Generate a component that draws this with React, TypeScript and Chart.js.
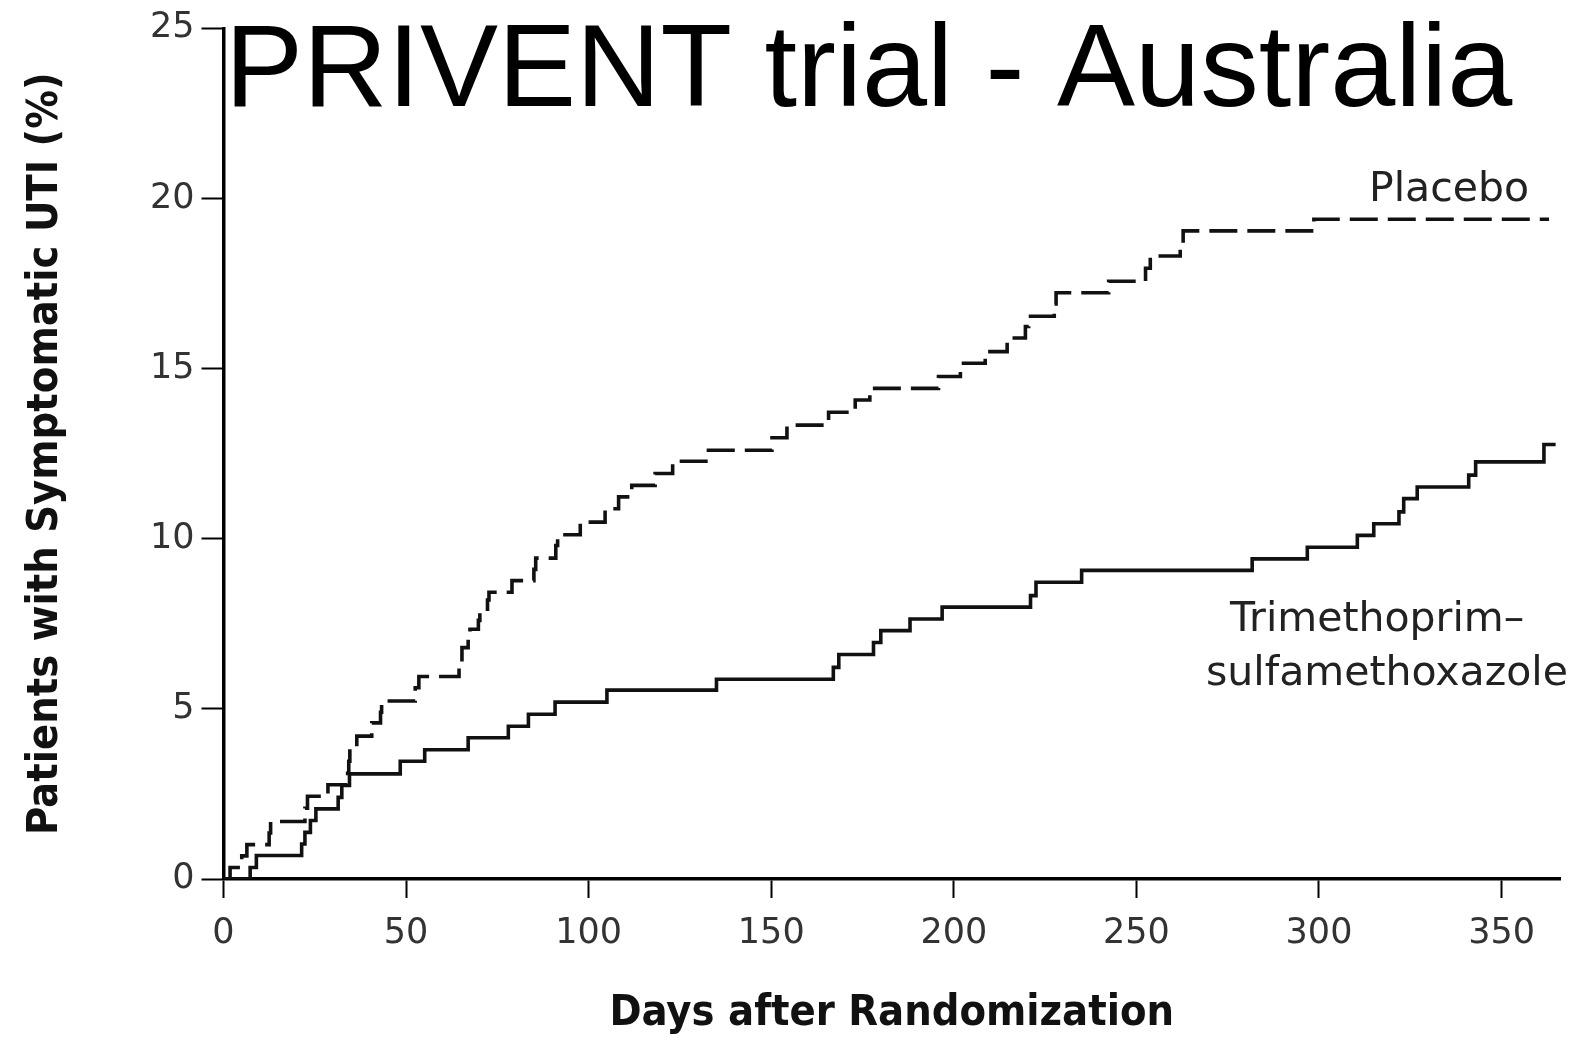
import React, { useEffect, useRef } from "react";
import { Chart, registerables } from "chart.js";

Chart.register(...registerables);

// ---- data ----
const chartTitle = "PRIVENT trial - Australia";
const xAxisTitle = "Days after Randomization";
const yAxisTitle = "Patients with Symptomatic UTI (%)";
const placeboLabel = "Placebo";
const tmpLabelLines = ["Trimethoprim–", "sulfamethoxazole"];

const xTickValues = [0, 50, 100, 150, 200, 250, 300, 350];
const yTickValues = [0, 5, 10, 15, 20, 25];

const placeboDays = [
  0, 1.8, 5.0, 6.4, 12.5, 12.9, 22.3, 23.0, 28.6, 34.0, 34.3, 34.6, 36.5, 40.6, 43.0, 43.3,
  52.5, 53.5, 64.5, 65.3, 67.0, 67.5, 69.8, 70.2, 72.3, 72.7, 79.0, 85.0, 85.5, 91.0, 91.5,
  97.7, 104.5, 108.2, 111.8, 118.2, 123.0, 132.8, 150.2, 154.3, 165.7, 173.0, 177.0, 195.8,
  201.8, 208.6, 214.6, 219.6, 220.5, 227.5, 228.0, 242.4, 252.5, 253.8, 262.0, 262.8, 298.6, 363.0,
];
const placeboPct = [
  0, 0.34, 0.68, 1.01, 1.35, 1.69, 2.08, 2.43, 2.77, 3.11, 3.46, 3.88, 4.2, 4.59, 4.9, 5.23,
  5.62, 5.95, 6.35, 6.8, 7.05, 7.34, 7.6, 7.93, 8.2, 8.43, 8.77, 9.1, 9.43, 9.8, 10.12,
  10.49, 10.88, 11.23, 11.57, 11.92, 12.28, 12.6, 12.97, 13.34, 13.72, 14.08, 14.42, 14.77,
  15.16, 15.5, 15.9, 16.24, 16.54, 16.9, 17.23, 17.57, 17.95, 18.31, 18.7, 19.05, 19.39, 19.39,
];

const tmpDays = [
  0, 7.3, 9.0, 21.4, 22.3, 23.8, 25.3, 31.4, 32.4, 34.5, 48.4, 55.1, 67.0, 78.0, 83.5, 90.8,
  105.0, 135.0, 167.0, 168.5, 178.0, 180.0, 188.0, 196.8, 221.0, 222.5, 235.0, 281.7, 296.8,
  310.5, 315.0, 321.9, 323.2, 326.9, 341.0, 342.9, 361.6, 364.8,
];
const tmpPct = [
  0, 0.34, 0.69, 1.03, 1.37, 1.72, 2.06, 2.4, 2.75, 3.09, 3.46, 3.8, 4.15, 4.49, 4.84, 5.2,
  5.55, 5.87, 6.22, 6.6, 6.95, 7.3, 7.64, 7.99, 8.33, 8.72, 9.07, 9.41, 9.75,
  10.1, 10.44, 10.79, 11.18, 11.52, 11.87, 12.26, 12.77, 12.77,
];

const W = 1591;
const H = 1046;

const overlayPlugin = {
  id: "overlayText",
  afterDraw(chart: any) {
    const { ctx, chartArea } = chart;
    ctx.save();
    // big title over the plot
    ctx.fillStyle = "#000";
    ctx.textAlign = "left";
    ctx.textBaseline = "alphabetic";
    ctx.font = '117px "Liberation Sans", Arial, sans-serif';
    ctx.fillText(chartTitle, chartArea.left + 1.5, 106);

    // series labels
    ctx.fillStyle = "#222";
    ctx.font = '41px "DejaVu Sans", sans-serif';
    ctx.fillText(placeboLabel, 1369, 201);
    ctx.fillText(tmpLabelLines[0], 1230, 631);
    ctx.fillText(tmpLabelLines[1], 1206, 685);
    ctx.restore();
  },
};

export default function App() {
  const ref = useRef<HTMLCanvasElement>(null);

  useEffect(() => {
    const placeboData = placeboDays.map((d, i) => ({ x: d, y: placeboPct[i] }));
    const tmpData = tmpDays.map((d, i) => ({ x: d, y: tmpPct[i] }));

    const tickFont = { family: '"DejaVu Sans", sans-serif', size: 35 };
    const titleFont = { family: '"DejaVu Sans Condensed", "Liberation Sans Narrow", sans-serif', size: 43, weight: "bold" as const };

    const chart = new Chart(ref.current!, {
      type: "line",
      data: {
        datasets: [
          {
            label: placeboLabel,
            data: placeboData,
            borderColor: "#111",
            borderWidth: 3.6,
            borderDash: [28, 10],
            pointRadius: 0,
            fill: false,
            stepped: "before",
          },
          {
            label: tmpLabelLines.join(" "),
            data: tmpData,
            borderColor: "#111",
            borderWidth: 3.6,
            pointRadius: 0,
            fill: false,
            stepped: "before",
          },
        ],
      },
      options: {
        responsive: false,
        animation: false,
        devicePixelRatio: 1,
        layout: { padding: { left: 0, top: 28.4, right: 31, bottom: 0 } },
        plugins: {
          legend: { display: false },
          tooltip: { enabled: false },
          title: { display: false },
        },
        scales: {
          x: {
            type: "linear",
            min: 0,
            max: 366,
            afterBuildTicks: (s: any) => {
              s.ticks = xTickValues.map((v) => ({ value: v }));
            },
            afterFit: (s: any) => {
              s.height = 167;
            },
            border: { display: true, color: "#000", width: 3.5 },
            grid: {
              display: true,
              drawOnChartArea: false,
              drawTicks: true,
              tickLength: 19,
              tickWidth: 2,
              tickColor: "#000",
            },
            ticks: {
              font: tickFont,
              color: "#333",
              padding: 15,
              maxRotation: 0,
              autoSkip: false,
            },
            title: {
              display: true,
              text: xAxisTitle,
              color: "#111",
              font: titleFont,
              padding: { top: 0, bottom: 6 },
            },
          },
          y: {
            type: "linear",
            min: 0,
            max: 25,
            afterBuildTicks: (s: any) => {
              s.ticks = yTickValues.map((v) => ({ value: v }));
            },
            afterFit: (s: any) => {
              s.width = 223.5;
            },
            border: { display: true, color: "#000", width: 3.5 },
            grid: {
              display: true,
              drawOnChartArea: false,
              drawTicks: true,
              tickLength: 22,
              tickWidth: 2,
              tickColor: "#000",
            },
            ticks: {
              font: tickFont,
              color: "#333",
              padding: 7,
              autoSkip: false,
            },
            title: {
              display: true,
              text: yAxisTitle,
              color: "#111",
              font: titleFont,
              padding: { top: 20, bottom: 0 },
            },
          },
        },
      },
      plugins: [overlayPlugin],
    });
    return () => chart.destroy();
  }, []);

  return (
    <div style={{ position: "absolute", left: 0, top: 0, width: W, height: H, background: "#fff" }}>
      <canvas ref={ref} width={W} height={H} style={{ display: "block", width: W, height: H }} />
    </div>
  );
}
